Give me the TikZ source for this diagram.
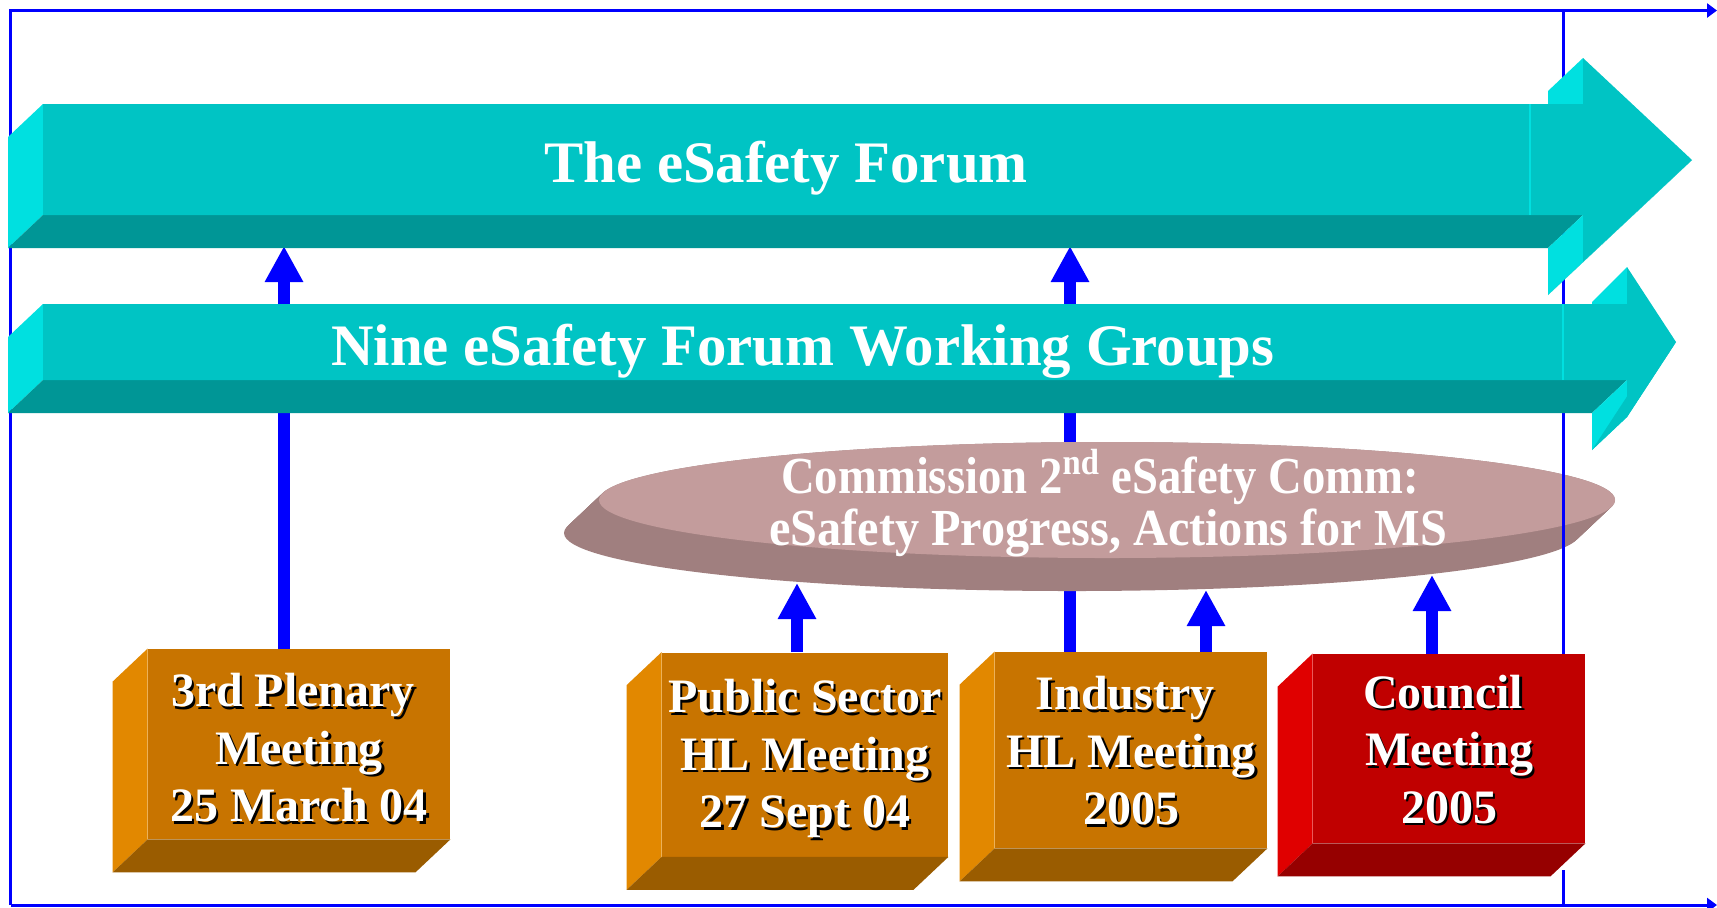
\documentclass[tikz,border=0pt]{standalone}
\usepackage{fontspec}
\setmainfont{Liberation Serif}
\usetikzlibrary{arrows.meta,calc,shapes.geometric}
\definecolor{cyF}{RGB}{0,196,196}
\definecolor{cyL}{RGB}{0,224,224}
\definecolor{cyD}{RGB}{0,150,150}
\definecolor{orF}{RGB}{200,116,0}
\definecolor{orL}{RGB}{226,136,0}
\definecolor{orD}{RGB}{154,92,0}
\definecolor{rdF}{RGB}{192,0,0}
\definecolor{rdL}{RGB}{224,0,0}
\definecolor{rdD}{RGB}{150,0,0}
\definecolor{mvT}{RGB}{195,156,156}
\definecolor{mvS}{RGB}{160,127,127}
\definecolor{blu}{RGB}{0,0,255}
\pgfdeclarelayer{lone}\pgfdeclarelayer{ltwo}\pgfdeclarelayer{lthree}\pgfdeclarelayer{lfour}
\pgfsetlayers{lone,ltwo,lthree,lfour,main}
\newcommand\shtx[1]{\rlap{\kern1.2pt\raisebox{-1.2pt}{\color{black}#1}}#1}
\tikzset{
  frontbox/.style={rectangle, inner sep=0pt},
  boxtext/.style={inner sep=0pt, align=center, text=white,
    font=\fontsize{24}{28.75}\selectfont\bfseries},
  blarrow/.style={draw=blu, line width=6pt, -{Triangle[length=18pt,width=18pt]}},
  framel/.style={draw=blu, line width=1.5pt},
  titletext/.style={anchor=base, text=white, inner sep=0pt, font=\fontsize{29.4}{35}\selectfont\bfseries},
  commtxt/.style={anchor=base, text=white, inner sep=0pt, font=\fontsize{26}{30}\selectfont\bfseries},
}
\begin{document}
\begin{tikzpicture}[x=0.5pt,y=-0.5pt]
\useasboundingbox (0,0) rectangle (1717,907);
\begin{pgfonlayer}{lone}
\fill[white] (0,0) rectangle (1717,907);
\end{pgfonlayer}

% boxes (front faces as nodes)
\node[frontbox, fill=orF, minimum width=151pt, minimum height=95pt] (b1) at (299,744) {};
\node[frontbox, fill=orF, minimum width=143pt, minimum height=102pt] (b2) at (805,754.5) {};
\node[frontbox, fill=orF, minimum width=136pt, minimum height=98pt] (b3) at (1131,750) {};
\node[frontbox, fill=rdF, minimum width=136pt, minimum height=94.5pt] (b4) at (1449,748.5) {};
\foreach \n/\l/\d in {b1/orL/orD, b2/orL/orD, b3/orL/orD, b4/rdL/rdD}{
  \fill[\l] (\n.north west) -- (\n.south west) -- ++(-35,33) -- ($(\n.north west)+(-35,33)$) -- cycle;
  \fill[\d] (\n.south west) -- (\n.south east) -- ++(-35,33) -- ($(\n.south west)+(-35,33)$) -- cycle;
}
\node[boxtext] (b1t) at ($(b1.center)+(0,5)$)
  {\shtx{3rd Plenary}\kern6pt\\\shtx{Meeting}\\\shtx{25 March 04}};
\node[boxtext] (b2t) at ($(b2.center)+(0,5.5)$)
  {\shtx{Public Sector}\\\shtx{HL Meeting}\\\shtx{27 Sept 04}};
\node[boxtext] (b3t) at ($(b3.center)+(0,2)$)
  {\shtx{Industry}\kern6pt\\\shtx{HL Meeting}\\\shtx{2005}};
\node[boxtext] (b4t) at ($(b4.center)+(0,2)$)
  {\shtx{Council}\kern6pt\\\shtx{Meeting}\\\shtx{2005}};

% commission disk
\begin{pgfonlayer}{ltwo}
\foreach \i in {0,...,35}
  \fill[mvS] (1107-\i, 500+0.943*\i) ellipse [x radius=254pt, y radius=29pt];
\node[ellipse, fill=mvT, inner sep=0pt, minimum width=508pt, minimum height=58pt] (comm) at (1107,500) {};
\node[commtxt] (commtexta) at (1100,493) {\scalebox{0.898}[1]{Commission 2\textsuperscript{nd} eSafety Comm:}};
\node[commtxt] (commtextb) at (1108,545) {\scalebox{0.928}[1]{eSafety Progress, Actions for MS}};
\end{pgfonlayer}

% frame
\begin{pgfonlayer}{lthree}
\draw[framel, -{Triangle[length=5pt,width=7pt]}] (10.5,905) -- (10.5,10.5) -- (1717,10.5);
\draw[framel, -{Triangle[length=5pt,width=7pt]}] (10.5,905) -- (1717,905);
\draw[framel] (1563,10.5) -- (1563,660);
\draw[framel] (1563,870) -- (1563,905);
\end{pgfonlayer}

% cyan arrows
\begin{pgfonlayer}{lfour}
\fill[cyL] (8,137) -- (43,104) -- (43,215) -- (8,248) -- cycle;
\fill[cyD] (43,215) -- (1583,215) -- (1548,248) -- (8,248) -- cycle;
\fill[cyL] (1548,91) -- (1583,58) -- (1583,104) -- (1548,104) -- cycle;
\fill[cyL] (1583,215) -- (1583,262) -- (1548,295) -- (1548,248) -- cycle;
\fill[cyF] (1583,262) -- (1692,160) -- (1657,193) -- (1548,295) -- cycle;
\fill[cyF] (43,104) -- (1583,104) -- (1583,58) -- (1692,160) -- (1583,262) -- (1583,215) -- (43,215) -- cycle;
\draw[cyL, line width=1pt] (1530,104) -- (1530,215);
\node[titletext] (forum) at (786,182) {The eSafety Forum};

\fill[cyL] (8,337) -- (43,304) -- (43,380) -- (8,413) -- cycle;
\fill[cyD] (43,380) -- (1627,380) -- (1592,413) -- (8,413) -- cycle;
\fill[cyL] (1592,302) -- (1627,267) -- (1627,304) -- (1592,304) -- cycle;
\fill[cyL] (1627,380) -- (1627,417) -- (1592,450) -- (1592,413) -- cycle;
\fill[cyF] (1627,417) -- (1676,342) -- (1641,375) -- (1592,450) -- cycle;
\fill[cyF] (43,304) -- (1627,304) -- (1627,267) -- (1676,342) -- (1627,417) -- (1627,380) -- (43,380) -- cycle;
\draw[cyL, line width=1pt] (1563,304) -- (1563,380);
\node[titletext] (groups) at (803,365) {Nine eSafety Forum Working Groups};
\end{pgfonlayer}

% blue connectors
\coordinate (ta) at (284,246);
\coordinate (tb) at (1070,246);
\coordinate (tc) at (797,583);
\coordinate (td) at (1206,590);
\coordinate (te) at (1432,575);
\begin{pgfonlayer}{lone}
\draw[blarrow] (b1.north -| ta) -- (ta);
\draw[blarrow] (b3.north -| tb) -- (tb);
\end{pgfonlayer}
\draw[blarrow] (b2.north -| tc) -- (tc);
\draw[blarrow] (b3.north -| td) -- (td);
\draw[blarrow] (b4.north -| te) -- (te);
\end{tikzpicture}
\end{document}
